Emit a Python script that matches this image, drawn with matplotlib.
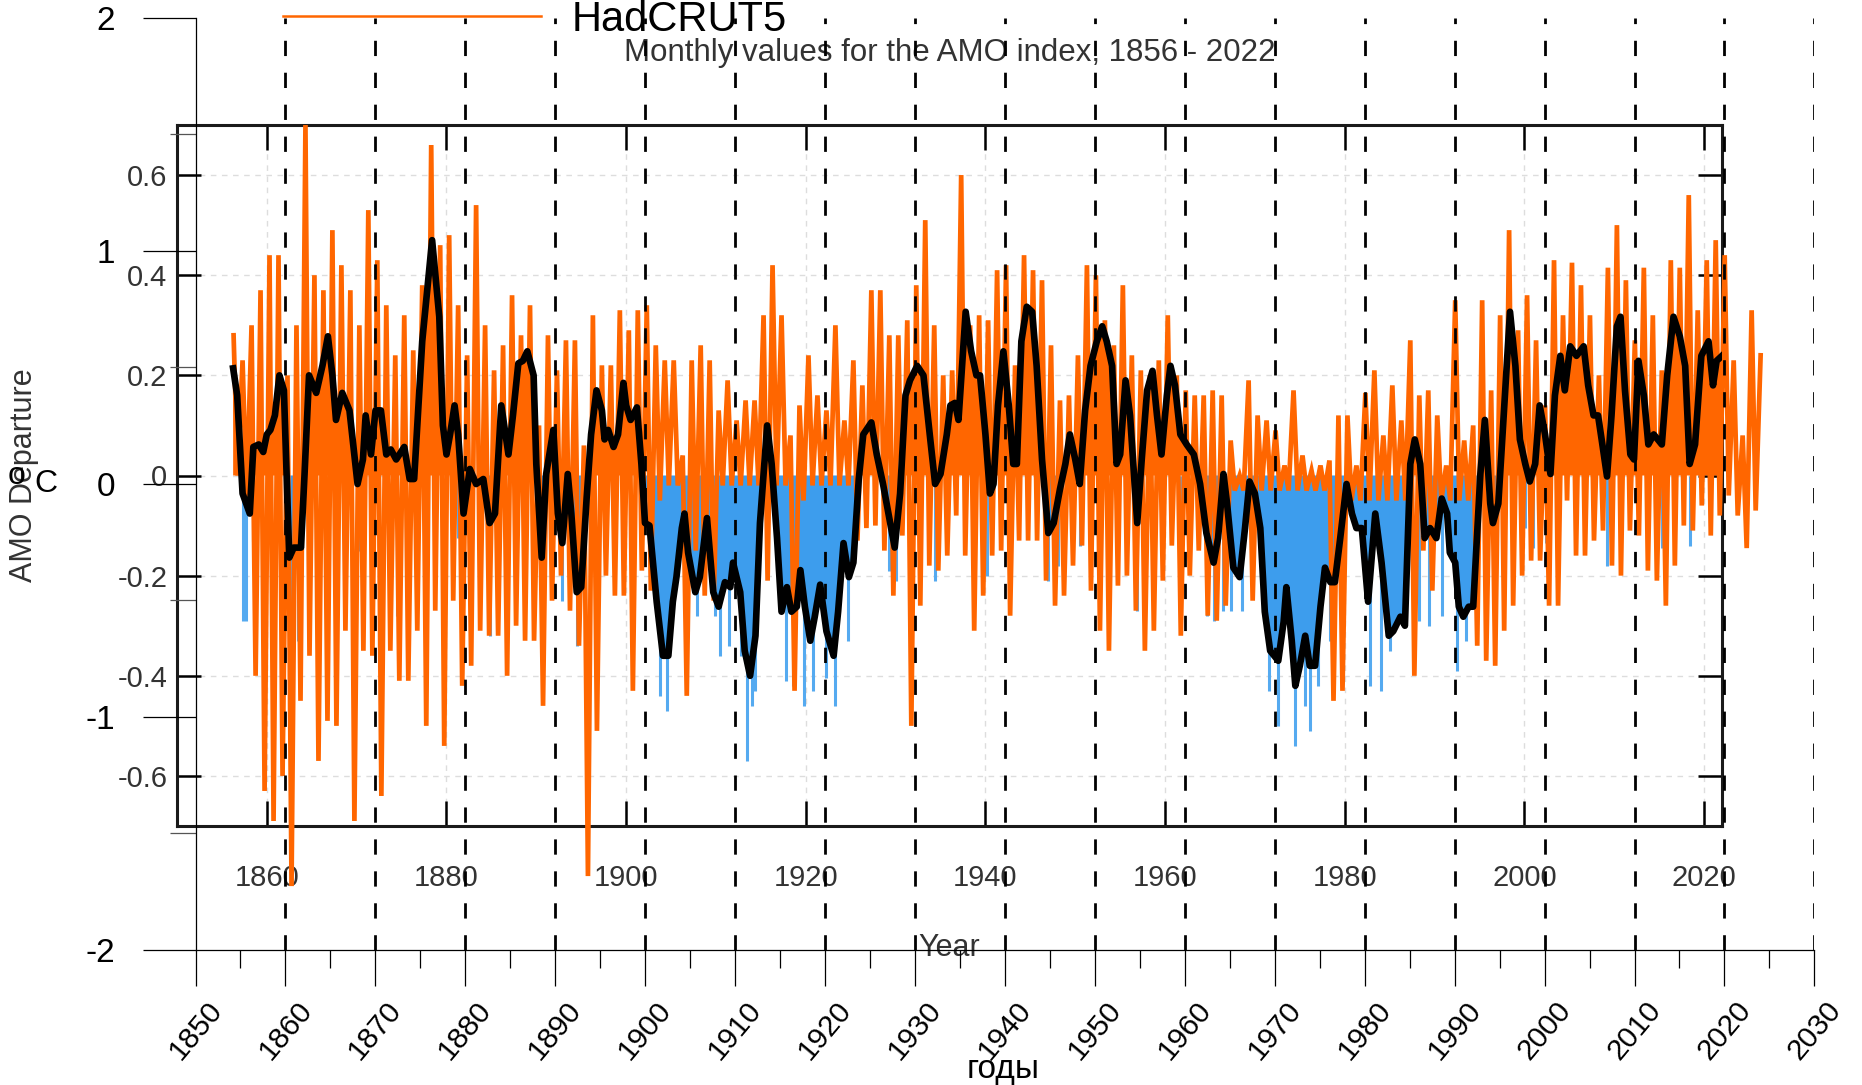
import matplotlib.pyplot as plt
from matplotlib.lines import Line2D
import numpy as np

plt.rcParams['font.family'] = ['Liberation Sans', 'DejaVu Sans']
plt.rcParams['axes.unicode_minus'] = False

# --- AMO index (smoothed), deg C departure ---
amo_year = [
    1856.25, 1856.7, 1857.3, 1857.7, 1858.1, 1858.5, 1859.1, 1859.6, 1860.0, 1860.4,
    1860.9, 1861.4, 1861.9, 1862.5, 1863.0, 1863.8, 1864.2, 1864.7, 1865.5, 1866.2,
    1866.8, 1867.3, 1867.7, 1868.4, 1869.2, 1870.1, 1870.7, 1871.0, 1871.6, 1872.1,
    1872.7, 1873.3, 1873.8, 1874.4, 1875.3, 1875.9, 1876.4, 1877.3, 1878.4, 1879.2,
    1879.6, 1880.0, 1880.4, 1880.9, 1881.3, 1881.9, 1882.6, 1883.3, 1884.1, 1884.8,
    1885.4, 1886.1, 1886.9, 1887.4, 1888.0, 1888.5, 1889.0, 1889.7, 1890.0, 1890.6,
    1891.1, 1891.9, 1892.4, 1892.9, 1893.5, 1893.9, 1894.5, 1895.0, 1895.6, 1896.1,
    1896.7, 1897.3, 1897.6, 1898.0, 1898.6, 1899.1, 1899.7, 1900.0, 1900.5, 1901.2,
    1901.7, 1902.1, 1902.6, 1903.4, 1904.1, 1904.7, 1905.2, 1905.6, 1906.2, 1906.5,
    1906.9, 1907.7, 1908.2, 1909.0, 1909.7, 1910.3, 1911.0, 1911.6, 1911.9, 1912.7,
    1913.2, 1913.8, 1914.4, 1914.9, 1915.7, 1916.2, 1916.8, 1917.3, 1917.9, 1918.4,
    1919.0, 1919.4, 1919.9, 1920.5, 1921.0, 1921.6, 1922.3, 1923.1, 1923.6, 1924.2,
    1924.8, 1925.3, 1925.9, 1926.4, 1927.3, 1927.9, 1928.6, 1929.2, 1929.9, 1930.5,
    1931.1, 1931.6, 1932.4, 1933.1, 1933.8, 1934.4, 1935.0, 1935.7, 1936.1, 1936.6,
    1937.0, 1937.8, 1938.4, 1939.0, 1939.4, 1940.0, 1940.5, 1940.9, 1941.4, 1942.0,
    1942.6, 1943.1, 1943.5, 1944.0, 1944.6, 1945.2, 1945.7, 1946.3, 1947.0, 1947.6,
    1948.3, 1948.9, 1949.4, 1950.0, 1950.5, 1951.1, 1951.7, 1952.4, 1953.0, 1953.5,
    1954.1, 1954.6, 1955.0, 1955.6, 1956.1, 1956.9, 1957.4, 1958.0, 1958.6, 1959.1,
    1959.6, 1960.2, 1960.6, 1961.1, 1961.7, 1962.4, 1963.2, 1963.9, 1964.6, 1965.4,
    1965.9, 1966.5, 1966.9, 1967.6, 1968.3, 1968.9, 1969.4, 1970.0, 1970.6, 1971.1,
    1971.7, 1972.6, 1973.2, 1973.5, 1974.1, 1974.5, 1975.0, 1975.6, 1976.1, 1976.7,
    1977.3, 1977.8, 1978.4, 1978.9, 1979.5, 1980.2, 1980.8, 1981.3, 1981.9, 1982.6,
    1983.4, 1984.1, 1984.9, 1985.4, 1986.2, 1986.7, 1987.3, 1987.8, 1988.4, 1988.9,
    1989.5, 1990.2, 1990.8, 1991.4, 1991.7, 1992.3, 1992.7, 1993.2, 1993.8, 1994.3,
    1995.1, 1995.6, 1996.2, 1996.5, 1997.1, 1997.7, 1998.4, 1999.0, 1999.5, 2000.1,
    2000.6, 2001.2, 2001.7, 2002.3, 2002.9, 2003.4, 2004.0, 2004.5, 2005.1, 2005.8,
    2006.6, 2007.1, 2007.7, 2008.2, 2008.6, 2009.2, 2009.7, 2010.3, 2010.7, 2011.2,
    2011.8, 2012.2, 2012.7, 2013.3, 2013.8, 2014.4, 2015.3, 2015.9, 2016.6, 2017.3,
    2017.9, 2018.4, 2019.0, 2019.7, 2020.5, 2021.0, 2021.4, 2022.0,
]
amo_smooth = [
    0.214, 0.16, -0.036, -0.056, -0.076, 0.057, 0.062, 0.047, 0.082, 0.091,
    0.12, 0.20, 0.17, -0.164, -0.144, -0.144, 0.003, 0.20, 0.165, 0.22,
    0.278, 0.20, 0.111, 0.165, 0.13, -0.017, 0.032, 0.12, 0.042, 0.13,
    0.13, 0.042, 0.052, 0.032, 0.057, -0.007, -0.007, 0.268, 0.47, 0.317,
    0.10, 0.042, 0.082, 0.14, 0.082, -0.076, 0.013, -0.017, -0.007, -0.095,
    -0.076, 0.14, 0.042, 0.12, 0.224, 0.229, 0.248, 0.20, 0.023, -0.164,
    0.003, 0.091, -0.076, -0.135, 0.003, -0.076, -0.233, -0.223, -0.046, 0.082,
    0.17, 0.13, 0.072, 0.091, 0.057, 0.082, 0.185, 0.14, 0.111, 0.136,
    0.023, -0.095, -0.10, -0.252, -0.36, -0.36, -0.252, -0.203, -0.105, -0.076,
    -0.154, -0.233, -0.203, -0.085, -0.233, -0.262, -0.213, -0.223, -0.174, -0.233,
    -0.35, -0.40, -0.32, -0.095, 0.10, 0.023, -0.125, -0.272, -0.223, -0.272,
    -0.262, -0.189, -0.262, -0.33, -0.282, -0.218, -0.311, -0.36, -0.272, -0.135,
    -0.203, -0.174, -0.007, 0.082, 0.106, 0.042, -0.017, -0.076, -0.144, -0.036,
    0.16, 0.19, 0.219, 0.20, 0.082, -0.017, 0.003, 0.082, 0.14, 0.145,
    0.111, 0.327, 0.249, 0.20, 0.20, 0.082, -0.036, -0.017, 0.14, 0.248,
    0.14, 0.023, 0.023, 0.268, 0.337, 0.327, 0.219, 0.032, -0.115, -0.095,
    -0.027, 0.023, 0.082, 0.032, -0.017, 0.13, 0.219, 0.268, 0.298, 0.268,
    0.219, 0.023, 0.042, 0.19, 0.12, -0.095, 0.032, 0.17, 0.209, 0.12,
    0.042, 0.16, 0.219, 0.18, 0.082, 0.062, 0.042, -0.017, -0.115, -0.174,
    -0.125, 0.003, -0.056, -0.184, -0.203, -0.105, -0.012, -0.036, -0.105, -0.272,
    -0.35, -0.37, -0.292, -0.223, -0.33, -0.42, -0.38, -0.32, -0.38, -0.38,
    -0.262, -0.184, -0.213, -0.213, -0.125, -0.017, -0.076, -0.105, -0.105, -0.252,
    -0.076, -0.174, -0.32, -0.311, -0.282, -0.30, 0.023, 0.072, 0.023, -0.125,
    -0.105, -0.125, -0.046, -0.076, -0.154, -0.174, -0.262, -0.282, -0.262, -0.262,
    0.003, 0.111, -0.056, -0.095, -0.056, 0.12, 0.327, 0.219, 0.072, 0.023,
    -0.012, 0.023, 0.14, 0.082, 0.003, 0.16, 0.239, 0.17, 0.258, 0.239,
    0.258, 0.18, 0.12, 0.12, 0.072, -0.002, 0.12, 0.298, 0.317, 0.17,
    0.042, 0.032, 0.229, 0.16, 0.062, 0.082, 0.062, 0.20, 0.317, 0.278,
    0.219, 0.023, 0.062, 0.239, 0.268, 0.18, 0.229, 0.239,
]

# --- monthly AMO minima (cold months) ---
cold_year = [
    1857.4, 1857.7, 1858.5, 1862.8, 1863.5, 1870.1, 1874.5, 1881.3, 1884.8, 1890.6,
    1892.9, 1894.5, 1903.8, 1904.5, 1906.9, 1907.9, 1909.9, 1910.5, 1911.4, 1912.8,
    1913.5, 1914.0, 1914.3, 1917.8, 1918.6, 1919.8, 1920.8, 1922.3, 1923.3, 1924.7,
    1929.3, 1930.0, 1934.4, 1940.2, 1947.0, 1948.1, 1950.5, 1954.7, 1956.9, 1961.8,
    1964.7, 1965.4, 1966.4, 1967.3, 1968.6, 1971.6, 1972.6, 1974.5, 1975.6, 1976.1,
    1977.0, 1978.4, 1982.8, 1984.0, 1985.0, 1988.3, 1989.4, 1990.8, 1992.5, 1993.5,
    1996.5, 2000.1, 2001.0, 2002.4, 2009.2, 2011.7, 2014.6, 2015.3, 2018.4,
]
cold_val = [
    -0.29, -0.29, -0.13, -0.34, -0.33, -0.15, -0.28, -0.125, -0.32, -0.26,
    -0.25, -0.34, -0.44, -0.47, -0.31, -0.28, -0.28, -0.36, -0.34, -0.36,
    -0.57, -0.46, -0.43, -0.41, -0.42, -0.46, -0.43, -0.405, -0.46, -0.33,
    -0.19, -0.21, -0.21, -0.20, -0.21, -0.18, -0.14, -0.085, -0.27, -0.095,
    -0.28, -0.29, -0.27, -0.27, -0.27, -0.43, -0.50, -0.54, -0.46, -0.51,
    -0.42, -0.33, -0.42, -0.43, -0.35, -0.29, -0.30, -0.28, -0.39, -0.33,
    -0.185, -0.105, -0.145, -0.135, -0.18, -0.09, -0.11, -0.145, -0.14,
]

# --- HadCRUT5: yearly high / low swing, 1856 onwards ---
had_first_year = 1856
had_hi = [
    0.28, 0.23, 0.30, 0.37, 0.44, 0.44, 0.20, 0.30, 0.70, 0.40,   # 1856-
    0.37, 0.49, 0.42, 0.37, 0.30, 0.53, 0.43, 0.34, 0.24, 0.32,   # 1866-
    0.25, 0.38, 0.66, 0.46, 0.48, 0.34, 0.24, 0.54, 0.30, 0.21,   # 1876-
    0.26, 0.36, 0.28, 0.34, 0.10, 0.28, 0.21, 0.27, 0.27, 0.06,   # 1886-
    0.32, 0.22, 0.22, 0.33, 0.29, 0.33, 0.34, 0.26, 0.23, 0.23,   # 1896-
    0.04, 0.23, 0.26, 0.23, 0.13, 0.19, 0.11, 0.15, 0.15, 0.32,   # 1906-
    0.42, 0.32, 0.08, 0.14, 0.24, 0.16, 0.13, 0.30, 0.11, 0.23,   # 1916-
    0.18, 0.37, 0.37, 0.28, 0.28, 0.31, 0.38, 0.51, 0.30, 0.20,   # 1926-
    0.21, 0.60, 0.30, 0.32, 0.31, 0.41, 0.42, 0.22, 0.44, 0.41,   # 1936-
    0.39, 0.26, 0.15, 0.16, 0.24, 0.42, 0.40, 0.31, 0.26, 0.38,   # 1946-
    0.24, 0.21, 0.20, 0.23, 0.32, 0.20, 0.17, 0.16, 0.16, 0.17,   # 1956-
    0.16, 0.07, 0.00, 0.19, 0.12, 0.11, 0.09, 0.02, 0.17, 0.04,   # 1966-
    0.01, 0.02, 0.03, 0.12, 0.12, 0.02, 0.165, 0.21, 0.08, 0.18,  # 1976-
    0.11, 0.27, 0.16, 0.17, 0.12, 0.02, 0.35, 0.07, 0.10, 0.35,   # 1986-
    0.17, 0.32, 0.49, 0.29, 0.36, 0.27, 0.14, 0.43, 0.32, 0.425,  # 1996-
    0.38, 0.32, 0.20, 0.415, 0.50, 0.39, 0.27, 0.415, 0.32, 0.21, # 2006-
    0.43, 0.415, 0.56, 0.33, 0.43, 0.47, 0.44, 0.23, 0.08, 0.33,  # 2016-
    0.24,                                                          # 2026
]
had_lo = [
    0.00, -0.05, -0.40, -0.63, -0.69, -0.60, -0.82, -0.45, -0.36, -0.57,
    -0.49, -0.50, -0.31, -0.69, -0.35, -0.36, -0.64, -0.35, -0.41, -0.41,
    -0.31, -0.50, -0.27, -0.54, -0.25, -0.42, -0.38, -0.31, -0.32, -0.32,
    -0.40, -0.30, -0.33, -0.33, -0.46, -0.25, -0.20, -0.27, -0.34, -0.80,
    -0.51, -0.20, -0.24, -0.24, -0.43, -0.19, -0.23, -0.05, -0.02, -0.02,
    -0.44, -0.15, -0.24, -0.25, -0.02, -0.02, -0.02, -0.02, -0.02, -0.21,
    -0.02, -0.02, -0.43, -0.05, -0.02, -0.02, -0.02, -0.02, -0.02, -0.13,
    -0.105, -0.10, -0.15, -0.24, -0.12, -0.50, -0.26, -0.18, -0.19, -0.16,
    -0.08, -0.16, -0.31, -0.24, -0.16, -0.15, -0.28, -0.13, -0.13, -0.13,
    -0.21, -0.26, -0.24, -0.18, -0.14, -0.23, -0.31, -0.35, -0.22, -0.20,
    -0.27, -0.35, -0.31, -0.21, -0.14, -0.32, -0.20, -0.15, -0.28, -0.29,
    -0.26, -0.03, -0.03, -0.25, -0.03, -0.03, -0.03, -0.03, -0.03, -0.03,
    -0.03, -0.03, -0.45, -0.43, -0.05, -0.05, -0.05, -0.05, -0.05, -0.05,
    -0.05, -0.40, -0.15, -0.23, -0.05, -0.05, -0.05, -0.05, -0.34, -0.37,
    -0.38, -0.31, -0.26, -0.20, -0.17, -0.17, -0.26, -0.26, -0.05, -0.16,
    -0.16, -0.13, -0.11, -0.18, -0.20, -0.11, -0.12, -0.19, -0.21, -0.26,
    -0.18, -0.10, -0.11, -0.06, -0.12, -0.08, -0.04, -0.08, -0.145, -0.07,
]

inner_xticks = [1860, 1880, 1900, 1920, 1940, 1960, 1980, 2000, 2020]
inner_yticks = [-0.6, -0.4, -0.2, 0.0, 0.2, 0.4, 0.6]
inner_ylabels = ['-0.6', '-0.4', '-0.2', '0', '0.2', '0.4', '0.6']
outer_xticks = list(range(1850, 2031, 10))
outer_yticks = [-2, -1, 0, 1, 2]

ORANGE = '#ff6600'
BLUE = '#3d9ded'
INK = '#333333'

W, H = 1862, 1085
fig = plt.figure(figsize=(W / 100, H / 100), dpi=100)


def box(x0, y0, x1, y1):
    """pixel box (top-left origin) -> figure fraction rect"""
    return [x0 / W, 1 - y1 / H, (x1 - x0) / W, (y1 - y0) / H]


# ---------------- AMO panel ----------------
ax = fig.add_axes(box(177, 125, 1722, 826))
ax.set_xlim(1850, 2022)
ax.set_ylim(-0.7, 0.7)

yr = np.array(amo_year)
sm = np.array(amo_smooth)
ax.vlines(cold_year, 0, cold_val, color='#55aaf0', lw=2.2, zorder=1)
ax.fill_between(yr, sm, 0, where=sm < 0, interpolate=True, color=BLUE, lw=0, zorder=1.5)
ax.fill_between(yr, sm, 0, where=sm > 0, interpolate=True, color=ORANGE, lw=0, zorder=2)

# HadCRUT5 swing: high early in the year, low later
hx, hy = [], []
for i, hi in enumerate(had_hi):
    hx.append(had_first_year + i + 0.3)
    hy.append(hi)
    if i < len(had_lo):
        hx.append(had_first_year + i + 0.75)
        hy.append(had_lo[i])
ax.plot(hx, hy, color=ORANGE, lw=3.4, zorder=3, clip_on=False, solid_joinstyle='miter')

ax.plot(yr, sm, color='black', lw=4.8, zorder=4, solid_joinstyle='round')

ax.set_xticks(inner_xticks)
ax.set_yticks(inner_yticks)
ax.set_yticklabels(inner_ylabels)
ax.tick_params(axis='x', direction='in', length=18, width=1.8, top=True,
               labelsize=21, labelcolor=INK, pad=27)
ax.tick_params(axis='y', direction='in', length=17, width=1.8, right=True,
               labelsize=21, labelcolor=INK, pad=7)
for s in ax.spines.values():
    s.set_linewidth(2.2)
    s.set_color('#1a1a1a')
ax.grid(True, color='#dddddd', linestyle=(0, (4, 4)), linewidth=1.0)
ax.set_axisbelow(True)

ax.text(0.5, 1.103, 'Monthly values for the AMO index, 1856 - 2022',
        transform=ax.transAxes, ha='center', va='center', fontsize=22.5, color=INK)
ax.text(0.5, -0.174, 'Year', transform=ax.transAxes, ha='center', va='center',
        fontsize=22, color=INK)
ax.text(-0.099, 0.5, 'AMO Departure', transform=ax.transAxes, ha='center', va='center',
        rotation=90, fontsize=22, color=INK)

# ---------------- outer frame ----------------
ax2 = fig.add_axes(box(195.5, 17.8, 1814.4, 950), zorder=5)
ax2.patch.set_alpha(0)
ax2.set_xlim(1850, 2030)
ax2.set_ylim(-2, 2)
ax2.spines[['top', 'right']].set_visible(False)
for s in ('left', 'bottom'):
    ax2.spines[s].set_linewidth(0.9)

ax2.set_xticks(outer_xticks)
ax2.set_xticks(list(range(1855, 2030, 10)), minor=True)
ax2.set_yticks(outer_yticks)
ax2.set_yticks([-1.5, -0.5, 0.5, 1.5], minor=True)
ax2.tick_params(axis='y', which='major', length=38, width=0.9, labelsize=24, pad=20)
ax2.tick_params(axis='y', which='minor', length=19, width=0.9, color='#555555')
ax2.tick_params(axis='x', which='major', length=26, width=0.9, labelsize=21.5, pad=7,
                labelrotation=50)
ax2.tick_params(axis='x', which='minor', length=13, width=0.9)

for x in outer_xticks[1:]:
    ax2.axvline(x, color='black', lw=2.0, linestyle=(0, (5.5, 6)))

ax2.set_xlabel('годы', fontsize=24, va='center')
ax2.xaxis.set_label_coords(0.4988, -0.128)

fig.text(17 / W, 1 - 476 / H, 'o', fontsize=23, ha='center', va='center')
fig.text(46 / W, 1 - 484 / H, 'C', fontsize=23, ha='center', va='center')

proxy = Line2D([], [], color=ORANGE, lw=1.8, label='HadCRUT5')
fig.legend(handles=[proxy], loc='center left', bbox_to_anchor=(283 / W, 1 - 20 / H),
           frameon=False, fontsize=30, handlelength=6.2, handletextpad=0.72,
           borderpad=0, borderaxespad=0)

fig.savefig('out.png', dpi=100)
